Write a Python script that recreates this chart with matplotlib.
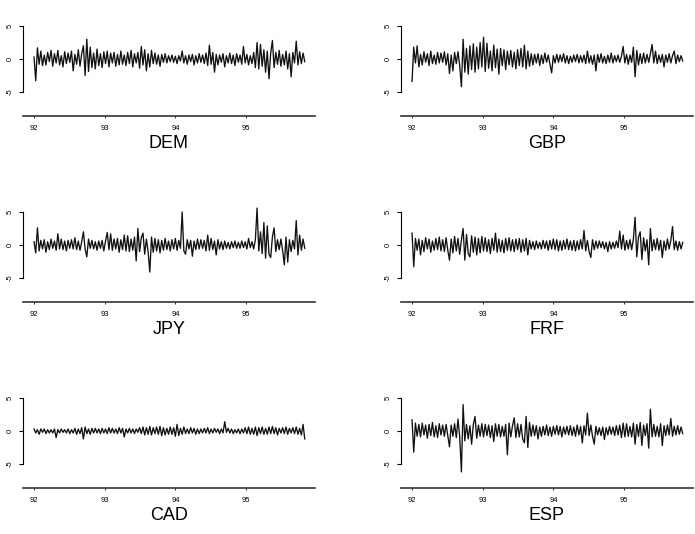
import numpy as np
import matplotlib
matplotlib.use("Agg")
import matplotlib.pyplot as plt

plt.rcParams['font.family'] = ['Liberation Sans', 'DejaVu Sans']

# daily returns (roughly one value per 1.7 px, 1992.0 - 1995.83)
dem = [0.3, -3.3, 1.7, -0.8, 1.2, -1.0, 0.6, -0.9, 1.0, -0.4, 1.3, -1.1, 0.8, -0.6, 1.3, -0.9, 0.5, -1.2, 1.1, -0.7,
       0.9, -0.5, 1.2, -1.8, 0.7, -0.8, 1.4, -1.1, 0.8, 2.0, -2.5, 3.0, -1.9, 1.8, -1.3, 0.9, -1.5, 1.5, -1.0, 0.8,
       -1.3, 1.1, -0.7, 1.2, -1.2, 0.9, -0.6, 1.0, -1.1, 0.7, -0.9, 1.2, -0.8, 0.6, -1.0, 1.0, -0.7, 1.3, -1.2, 0.8,
       -0.6, 1.0, -1.4, 1.9, -0.9, 1.4, -1.8, 0.8, -1.2, 1.3, -0.7, 0.9, -0.8, 0.6, -1.1, 0.7, -0.5, 0.8, -0.6, 0.5,
       -0.4, 0.6, -0.5, 0.4, -0.7, 0.5, -0.3, 1.2, -0.6, 0.5, -0.8, 0.6, -0.4, 0.7, -0.9, 0.5, -0.6, 0.8, -0.5, 0.6,
       -0.7, 0.9, -1.0, 2.1, -0.8, 1.0, -2.0, 0.7, -0.9, 0.6, -0.5, 0.8, -1.2, 0.5, -0.6, 0.9, -0.7, 0.6, -1.0, 0.8,
       -0.5, 0.6, -0.8, 1.9, -0.6, 0.7, -0.9, 0.5, -0.7, 1.0, -1.3, 2.5, -1.5, 2.2, -1.1, 1.4, -2.0, 1.2, -3.0, 0.9,
       2.8, -1.3, 1.0, -0.8, 1.3, -1.1, 0.7, -0.9, 1.2, -1.5, 0.8, -2.7, 1.0, -0.6, 2.7, -0.9, 1.1, -0.7, 0.9, -0.4]

gbp = [-3.4, 1.8, -0.6, 2.0, -1.2, 0.7, -0.9, 1.1, -0.5, 0.8, -1.0, 1.2, -0.7, 0.6, -0.8, 1.0, -0.6, 0.9, -0.5, 1.1,
       -0.9, 0.8, -2.2, 0.6, -1.8, 1.0, -0.7, 1.1, -1.0, -4.2, 3.0, -2.0, 1.6, -2.3, 2.0, -1.6, 2.3, -2.0, 1.8, -1.5,
       2.5, -1.2, 3.3, -1.9, 2.4, -1.4, 1.2, -1.8, 2.1, -1.3, 1.5, -2.3, 1.6, -1.0, 1.4, -1.6, 1.2, -0.9, 1.3, -1.2,
       1.0, -1.5, 1.4, -1.0, 1.6, -1.2, 2.1, -1.5, 1.2, -1.1, 0.8, -0.9, 0.7, -0.6, 0.8, -1.0, 0.6, -0.7, 0.9, -0.5,
       0.6, -0.8, -2.1, 0.5, -0.6, 0.7, -0.5, 0.6, -0.4, 0.8, -0.6, 0.5, -0.7, 0.4, -0.5, 0.6, -0.4, 0.7, -0.6, 0.5,
       -0.5, 0.6, -0.7, 1.2, -0.6, 0.5, -0.8, 0.6, -1.8, 0.7, -0.5, 0.8, -0.6, 0.4, -0.7, 0.6, -0.5, 0.9, -0.6, 0.5,
       -0.4, 0.6, -0.5, 0.4, 1.9, -0.6, 0.7, -0.8, 0.6, -0.5, 1.8, -2.7, 1.3, -0.9, 0.8, -0.7, 0.9, -0.6, 0.7, -0.5,
       0.8, 2.2, -0.6, 1.2, -0.7, 0.6, -0.5, 0.7, -1.2, 0.6, -0.5, 0.8, -0.6, 0.5, 1.2, -0.7, 0.6, -0.4, 0.5, -0.3]

jpy = [0.5, -1.2, 2.6, -0.9, 0.7, -0.6, 0.8, -1.1, 0.5, -0.7, 0.9, -0.5, 0.6, -0.8, 1.7, -0.6, 0.9, -0.7, 0.6, -0.9,
       0.7, -0.5, 0.8, -0.6, 1.1, -0.7, 0.6, -0.8, 0.5, 2.0, -0.6, -1.8, 0.9, -0.5, 0.7, -0.6, 0.5, -0.8, 0.6, -0.5,
       0.7, -0.9, 0.6, 1.9, -0.7, 1.7, -0.8, 0.9, -0.6, 1.0, -1.1, 0.8, -0.7, 1.5, -0.9, 1.4, -1.0, 0.9, -0.8, 1.2,
       -2.4, 2.5, -1.0, 1.1, 1.8, -1.4, 0.9, -1.0, -4.1, 1.2, -1.1, 1.0, -0.9, 0.8, -1.2, 0.7, -0.8, 1.0, -0.7, 0.6,
       -0.9, 0.8, -0.6, 1.0, -0.8, 0.7, -0.5, 5.0, -0.9, -1.4, 0.8, -0.6, 0.7, -1.7, 0.6, -0.7, 0.9, -0.6, 0.8, -0.5,
       0.7, -0.9, 1.5, -0.8, 1.0, -0.7, 0.6, -1.5, 0.8, -0.6, 0.5, -0.7, 0.6, -0.5, 0.4, -0.6, 0.5, -0.4, 0.6, -0.5,
       0.4, -0.5, 0.6, -0.4, 0.5, -0.6, 1.0, -0.4, 0.5, -0.6, 0.8, 5.6, -0.9, 2.0, -1.3, 3.4, -2.0, 2.9, -1.4, -1.9,
       1.2, 2.6, -1.0, 0.8, -0.7, 0.9, -0.8, -3.0, 1.2, -2.6, 0.8, -1.0, 0.7, -0.6, 3.7, -1.5, 1.5, -0.8, 0.9, -0.5]

frf = [1.8, -3.3, 1.0, -0.8, 0.9, -1.5, 0.7, -1.0, 1.1, -0.6, 0.9, -1.1, 0.6, -0.8, 1.0, -0.7, 1.2, -0.9, 0.8, -1.0,
       1.1, -0.8, -2.3, 0.9, -1.2, 1.3, -0.9, 1.0, -1.4, 0.8, 2.5, -2.3, 1.6, -1.3, -1.8, 1.4, -1.1, 1.2, -1.5, 1.0,
       -1.2, 1.3, -0.9, 1.1, -1.0, 0.8, -1.3, 1.0, -0.8, 1.8, -1.1, 0.9, -1.0, 0.7, -1.2, 1.0, -0.8, 1.1, -0.9, 0.8,
       -1.0, 0.9, -0.7, 1.0, -1.1, 0.8, -0.9, 1.0, -1.5, 0.7, -0.6, 0.5, -0.7, 0.6, -0.5, 0.4, -0.6, 0.7, -0.5, 0.6,
       -0.8, 0.7, -0.6, 0.9, -0.7, 0.8, -0.9, 0.6, -0.8, 0.7, -0.6, 0.9, -0.7, 0.6, -0.8, 0.7, -0.9, 0.6, -0.7, 0.8,
       -0.6, 2.2, -0.9, 0.7, -1.0, -1.9, 0.8, -0.7, 0.6, -0.5, 0.6, -0.4, 0.5, -0.6, 0.4, -1.0, 0.5, -0.6, 0.4, -0.5,
       0.6, -0.4, 2.1, -0.6, 1.5, -0.8, 0.7, -0.6, 0.8, -0.7, 0.9, 4.2, -1.8, 1.2, 2.0, -2.2, 1.1, -0.9, 0.8, -3.0,
       2.5, -0.9, 0.8, -0.7, 1.0, -0.8, 0.7, -1.9, 0.6, -0.8, 0.9, -0.6, 0.7, 2.8, -0.7, 0.6, -0.8, 0.5, -0.6, 0.4]

cad = [0.3, -0.3, 0.2, -0.5, 0.3, -0.2, 0.3, -0.4, 0.2, -0.3, 0.2, -0.3, 0.3, -1.0, 0.2, -0.3, 0.3, -0.2, 0.2, -0.3,
       0.3, -0.4, 0.2, -0.3, 0.4, -0.5, 0.3, -0.4, 0.5, -1.2, 0.6, -0.4, 0.3, -0.5, 0.4, -0.3, 0.4, -0.3, 0.3, -0.4,
       0.4, -0.3, 0.3, -0.4, 0.5, -0.3, 0.4, -0.3, 0.3, -0.4, 0.5, -0.3, 0.4, -0.9, 0.3, -0.3, 0.4, -0.3, 0.3, -0.4,
       0.3, -0.2, 0.5, -0.4, 0.6, -0.6, 0.5, -0.5, 0.7, -0.6, 0.5, -0.4, 0.6, -0.5, 0.7, -0.7, 0.5, -0.6, 0.4, -0.5,
       0.6, -0.5, 0.5, -0.8, 1.0, -0.7, 0.4, -0.5, 0.6, -0.4, 0.3, -0.4, 0.5, -0.3, 0.4, -0.5, 0.3, -0.4, 0.3, -0.3,
       0.4, -0.3, 0.5, -0.4, 0.3, -0.3, 0.4, -0.2, 0.3, -0.4, 0.3, -0.3, 1.4, -0.2, 0.4, -0.3, 0.3, -0.4, 0.2, -0.3,
       0.3, -0.4, 0.3, -0.3, 0.5, -0.4, 0.6, -0.5, 0.4, -0.5, 0.6, -0.7, 0.5, -0.4, 0.6, -0.5, 0.4, -0.5, 0.6, -0.4,
       0.7, -0.4, 0.5, -0.6, 0.4, -0.3, 0.5, -0.4, 0.6, -0.5, 0.4, -0.3, 0.5, -0.4, 0.6, -0.5, 0.4, -0.6, 1.0, -1.2]

esp = [1.7, -3.2, 1.2, -0.8, 1.0, -0.9, 1.2, -0.6, 0.9, -1.1, 1.0, -0.7, 1.3, -0.9, 0.8, -1.0, 1.1, -0.6, 0.9, -0.8,
       1.0, -0.7, -2.4, 0.9, -0.8, 1.1, -1.0, 1.8, -0.9, -6.2, 4.0, -1.5, 1.0, -1.2, 0.8, -2.0, 1.0, 2.2, -1.1, 0.9,
       -0.8, 1.1, -0.9, 1.0, -0.7, 0.9, -1.0, 0.8, -1.6, 1.1, -0.8, 1.0, -0.9, 0.7, -0.8, 1.0, -3.6, 1.2, -0.9, 0.8,
       2.0, -1.0, 1.1, -0.9, 1.0, -1.2, -1.8, 2.2, -2.5, 1.3, -0.8, 0.9, -0.7, 0.8, -1.2, 0.6, -0.8, 0.7, -0.6, 0.9,
       -0.7, 0.6, -0.8, 0.7, -0.5, 0.8, -0.6, 0.7, -0.9, 0.6, -0.5, 0.7, -0.6, 0.8, -0.7, 0.6, -0.8, 0.9, -0.6, 0.7,
       -1.8, 0.8, -0.6, 2.7, -0.7, 0.9, -0.8, -2.0, 0.7, -0.6, 0.5, -0.7, 0.6, -1.3, 0.5, -0.6, 0.7, -0.5, 0.6, -0.7,
       0.8, -0.6, 0.9, -1.0, 1.2, -0.9, 1.1, -0.8, 0.7, -0.9, 1.2, -2.0, 1.0, -0.8, 1.3, -2.2, 0.9, -0.7, 1.1, -2.6,
       3.3, -0.9, 1.0, -0.8, 0.7, -0.9, 1.1, -2.2, 0.8, -0.7, 0.9, -0.6, 1.9, -0.8, 0.7, -0.6, 0.8, -0.5, 0.6, -0.4]

names = ['DEM', 'GBP', 'JPY', 'FRF', 'CAD', 'ESP']
series = [dem, gbp, jpy, frf, cad, esp]
xticks = [92, 93, 94, 95]
start, end = 92.0, 95.83

W, H = 695, 534
fig = plt.figure(figsize=(W / 100, H / 100), dpi=100)

lefts = [23, 401]
bottoms = [116, 302, 488]   # pixel row of the x axis line
aw, ah = 292, 103.2

for k, (name, ys) in enumerate(zip(names, series)):
    r, c = divmod(k, 2)
    ax = fig.add_axes([lefts[c] / W, (H - bottoms[r]) / H, aw / W, ah / H])
    t = np.linspace(start, end, len(ys))
    ax.plot(t, ys, color='#111111', lw=0.95)
    ax.set_xlim(91.844, 95.975)
    ax.set_ylim(-8.64, 7.0)
    for s in ['top', 'right']:
        ax.spines[s].set_visible(False)
    ax.spines['left'].set_bounds(-5, 5)
    ax.spines['left'].set_linewidth(0.8)
    ax.spines['bottom'].set_linewidth(1.2)
    ax.spines['bottom'].set_color('#333333')
    ax.set_yticks([-5, 0, 5])
    ax.set_yticklabels(['-5', '0', '5'], rotation=90, va='center', fontsize=5.5)
    ax.set_xticks(xticks)
    ax.set_xticklabels([str(v) for v in xticks], fontsize=5.5)
    ax.tick_params(axis='y', length=3, width=0.8, pad=4)
    ax.tick_params(axis='x', length=1.5, width=0.6, pad=5)
    ax.text(0.5, -0.27, name, transform=ax.transAxes, ha='center', va='center', fontsize=13)

fig.savefig('out.png', dpi=100)
